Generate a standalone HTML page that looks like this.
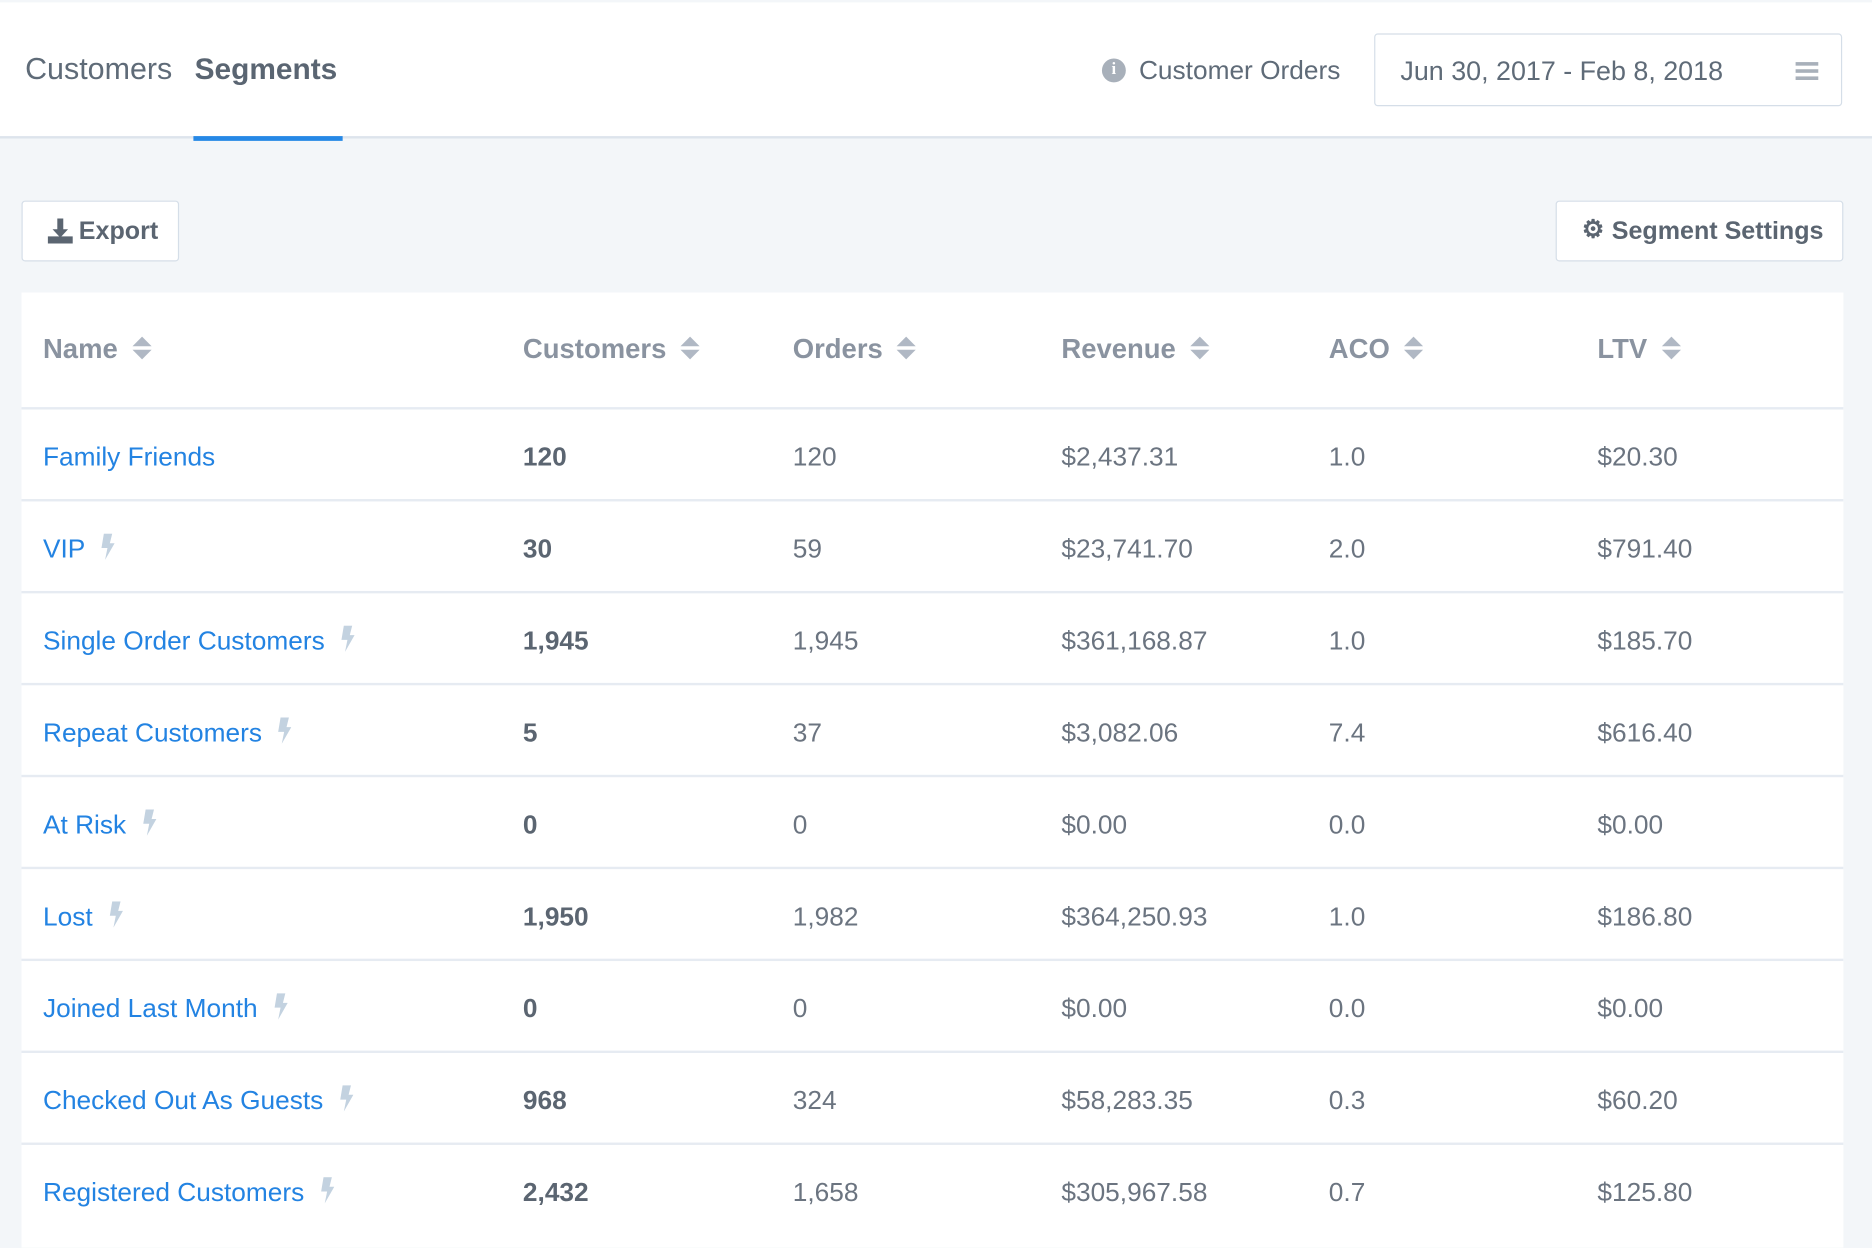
<!DOCTYPE html>
<html><head><meta charset="utf-8"><style>
*{margin:0;padding:0;box-sizing:border-box}
html,body{width:1872px;height:1234px;overflow:hidden;background:#f3f6f9}
#w{position:absolute;left:0;top:0;width:1568px;height:1034px;transform:scale(1.19388);transform-origin:0 0;font-family:"Liberation Sans",sans-serif;background:#f3f6f9}
.a{position:absolute;white-space:nowrap}
.hdr{position:absolute;left:0;top:2px;width:1568px;height:114px;background:#fff;border-bottom:2px solid #dde4ec}
.tab{font-size:25.5px;color:#5f6b78;top:44px}
.btn{position:absolute;background:#fff;border:1.5px solid #d5dee8;border-radius:3px}
.tbl{position:absolute;left:18px;top:245px;width:1526px;height:800px;background:#fff}
.th{font-size:23px;font-weight:bold;color:#8a93a0;top:279px}
.sort{display:inline-block;vertical-align:middle;margin-left:12px;width:14px;height:20px;position:relative;top:-2px}
.sort:before{content:"";position:absolute;left:0;top:0;border-left:8px solid transparent;border-right:8px solid transparent;border-bottom:8px solid #b0b8c4}
.sort:after{content:"";position:absolute;left:0;top:11px;border-left:8px solid transparent;border-right:8px solid transparent;border-top:8px solid #b0b8c4}
.line{position:absolute;left:18px;width:1526px;height:2px;background:#e6ebf2}
.c{font-size:22px;color:#6b7480}
.n{color:#2383e2}
.b{font-weight:bold;color:#5b6571}
.bolt{display:inline-block;margin-left:13px;vertical-align:middle;position:relative;top:-3px}
</style></head><body><div id="w">
<div class="hdr"></div>
<div class="a tab" style="left:21px">Customers</div>
<div class="a tab" style="left:163px;font-weight:bold;color:#5a6572;font-size:25px">Segments</div>
<div class="a" style="left:162px;top:114px;width:125px;height:4px;background:#2688e6"></div>
<div class="a" style="left:923px;top:49px;width:20px;height:20px;border-radius:50%;background:#a8b0ba;color:#fff;font-size:14px;font-weight:bold;text-align:center;line-height:20px;font-family:'Liberation Serif',serif">i</div>
<div class="a" style="left:954px;top:46px;font-size:22px;color:#5f6b78">Customer Orders</div>
<div class="btn" style="left:1151px;top:28px;width:392px;height:61px"></div>
<div class="a" style="left:1173px;top:47px;font-size:22.5px;color:#5f6b78">Jun 30, 2017 - Feb 8, 2018</div>
<div class="a" style="left:1504px;top:52px;width:19px;height:3px;background:#a8b0ba;box-shadow:0 6px 0 #a8b0ba,0 12px 0 #a8b0ba"></div>
<div class="btn" style="left:18px;top:168px;width:132px;height:51px"></div>
<svg class="a" style="left:40px;top:183px" width="21" height="21" viewBox="0 0 21 21"><path d="M8 0h5v9h4l-6.5 7L4 9h4z" fill="#5b6571"/><rect x="0" y="15" width="21" height="6" fill="#5b6571"/></svg>
<div class="a" style="left:66px;top:182px;font-size:21px;font-weight:bold;color:#5b6571">Export</div>
<div class="btn" style="left:1303px;top:168px;width:241px;height:51px"></div>
<div class="a" style="left:1325px;top:180px;font-size:21px;color:#5b6571;font-weight:bold">⚙</div>
<div class="a" style="left:1350px;top:182px;font-size:21px;font-weight:bold;color:#5b6571">Segment Settings</div>
<div class="tbl"></div>
<div class="a th" style="left:36px">Name<span class="sort"></span></div>
<div class="a th" style="left:438px">Customers<span class="sort"></span></div>
<div class="a th" style="left:664px">Orders<span class="sort"></span></div>
<div class="a th" style="left:889px">Revenue<span class="sort"></span></div>
<div class="a th" style="left:1113px">ACO<span class="sort"></span></div>
<div class="a th" style="left:1338px">LTV<span class="sort"></span></div>
<div class="line" style="top:341px"></div>
<div id="rows"></div>
<script>
var d=[["Family Friends",0,"120","120","$2,437.31","1.0","$20.30"],["VIP",1,"30","59","$23,741.70","2.0","$791.40"],["Single Order Customers",1,"1,945","1,945","$361,168.87","1.0","$185.70"],["Repeat Customers",1,"5","37","$3,082.06","7.4","$616.40"],["At Risk",1,"0","0","$0.00","0.0","$0.00"],["Lost",1,"1,950","1,982","$364,250.93","1.0","$186.80"],["Joined Last Month",1,"0","0","$0.00","0.0","$0.00"],["Checked Out As Guests",1,"968","324","$58,283.35","0.3","$60.20"],["Registered Customers",1,"2,432","1,658","$305,967.58","0.7","$125.80"]];
var x=[36,438,664,889,1113,1338],h="";
var bolt='<svg class="bolt" width="12" height="22" viewBox="0 0 12 22"><path d="M3 0h7l-2 8h4L4 22l2-10H1z" fill="#c3d2e0"/></svg>';
d.forEach(function(r,i){var t=370+i*77;
h+='<div class="a c n" style="left:36px;top:'+t+'px">'+r[0]+(r[1]?bolt:'')+'</div>';
h+='<div class="a c b" style="left:438px;top:'+t+'px">'+r[2]+'</div>';
for(var k=3;k<7;k++)h+='<div class="a c" style="left:'+x[k-1]+'px;top:'+t+'px">'+r[k]+'</div>';
if(i<8)h+='<div class="line" style="top:'+(418+i*77)+'px"></div>';});
document.getElementById('rows').innerHTML=h;
</script>
</div></body></html>
